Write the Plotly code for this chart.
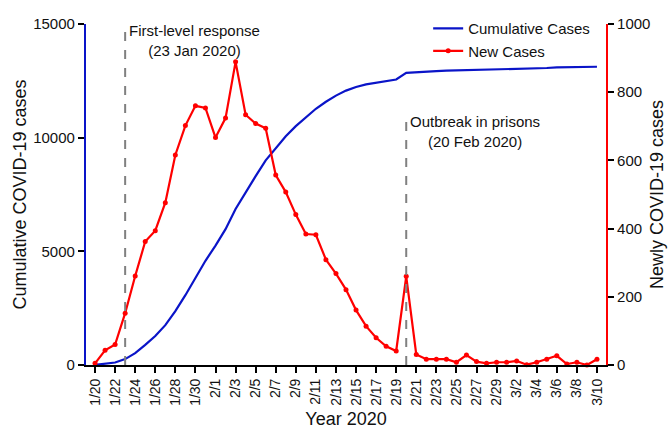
import plotly.graph_objects as go

dates = ["1/20", "1/21", "1/22", "1/23", "1/24", "1/25", "1/26", "1/27", "1/28", "1/29",
         "1/30", "1/31", "2/1", "2/2", "2/3", "2/4", "2/5", "2/6", "2/7", "2/8",
         "2/9", "2/10", "2/11", "2/12", "2/13", "2/14", "2/15", "2/16", "2/17", "2/18",
         "2/19", "2/20", "2/21", "2/22", "2/23", "2/24", "2/25", "2/26", "2/27", "2/28",
         "2/29", "3/1", "3/2", "3/3", "3/4", "3/5", "3/6", "3/7", "3/8", "3/9", "3/10"]

new_cases = [5, 43, 60, 152, 261, 362, 394, 476, 616, 702,
             760, 754, 667, 724, 889, 734, 708, 694, 557, 507,
             441, 384, 382, 309, 268, 221, 161, 114, 80, 55,
             41, 260, 31, 17, 17, 17, 8, 29, 10, 5,
             8, 8, 12, 1, 8, 17, 27, 3, 8, 0, 17]

cumulative_cases = [5, 48, 108, 260, 521, 883, 1277, 1753, 2369, 3071,
                    3831, 4585, 5252, 5976, 6865, 7599, 8307, 9001, 9558, 10065,
                    10506, 10890, 11272, 11581, 11849, 12070, 12231, 12345, 12425, 12480,
                    12560, 12850, 12885, 12905, 12925, 12945, 12955, 12985, 12995, 13005,
                    13015, 13025, 13035, 13040, 13050, 13065, 13090, 13095, 13105, 13105, 13120]

tick_labels = dates[::2]
left_ticks = [0, 5000, 10000, 15000]
left_tick_labels = ["0", "5000", "10000", "15000"]
right_ticks = [0, 200, 400, 600, 800, 1000]
right_tick_labels = ["0", "200", "400", "600", "800", "1000"]

event_dates = ["1/23", "2/20"]
event_texts = ["First-level response<br>(23 Jan 2020)", "Outbreak in prisons<br>(20 Feb 2020)"]
event_line_tops = [1.0, 0.725]
event_text_y = [0.951, 0.684]

FONT = "Arial, Liberation Sans, sans-serif"
x = list(range(len(dates)))

fig = go.Figure()
fig.add_trace(go.Scatter(
    x=x, y=cumulative_cases, name="Cumulative Cases", mode="lines",
    line=dict(color="#0a14c8", width=2.2), yaxis="y"))
fig.add_trace(go.Scatter(
    x=x, y=new_cases, name="New Cases", mode="lines+markers",
    line=dict(color="#ff0000", width=2.2), marker=dict(size=5, color="#ff0000"),
    yaxis="y2", cliponaxis=False))

for d, top, txt, ty in zip(event_dates, event_line_tops, event_texts, event_text_y):
    xi = dates.index(d)
    fig.add_shape(type="line", xref="x", yref="paper", x0=xi, x1=xi, y0=0, y1=top,
                  line=dict(color="#808080", width=2, dash="dash"))
    fig.add_annotation(x=xi, xref="x", y=ty, yref="paper", text=txt, showarrow=False,
                       xanchor="left", yanchor="middle", align="center", xshift=2,
                       font=dict(family=FONT, size=15, color="#111"))

fig.update_layout(
    width=668, height=431,
    margin=dict(l=86, r=62, t=20, b=66),
    paper_bgcolor="white", plot_bgcolor="white",
    font=dict(family=FONT, size=15, color="#111"),
    showlegend=True,
    legend=dict(x=0.658, y=1.035, xanchor="left", yanchor="top",
                bgcolor="rgba(0,0,0,0)", font=dict(size=15), itemwidth=30,
                tracegroupgap=0),
    xaxis=dict(range=[-0.9, len(dates) - 0.1], tickvals=x[::2], ticktext=tick_labels,
               tickangle=-90, showgrid=False, zeroline=False, showline=True,
               linecolor="black", linewidth=2, ticks="outside", ticklen=6,
               tickwidth=1.5, tickcolor="black", tickfont=dict(size=14), automargin=False,
               title=dict(text="Year 2020", font=dict(size=18), standoff=8)),
    yaxis=dict(range=[0, 15000], tickvals=left_ticks, ticktext=left_tick_labels,
               showgrid=False, zeroline=False, automargin=False,
               showline=True, linecolor="#0a14c8", linewidth=2.2, ticks="outside",
               ticklen=6, tickwidth=1.5, tickcolor="black", tickfont=dict(size=15),
               title=dict(text="Cumulative COVID-19 cases", font=dict(size=18), standoff=2)),
    yaxis2=dict(range=[0, 1000], tickvals=right_ticks, ticktext=right_tick_labels,
                overlaying="y", side="right", automargin=False,
                showgrid=False, zeroline=False, showline=True, linecolor="#ff0000",
                linewidth=2.2, ticks="outside", ticklen=6, tickwidth=1.5,
                tickcolor="black", tickfont=dict(size=15),
                title=dict(text="Newly COVID-19 cases", font=dict(size=18), standoff=1)),
)

fig.write_html("out.html", config={"displayModeBar": False},
               post_script="document.body.style.margin='0px';document.body.style.overflow='hidden';")
